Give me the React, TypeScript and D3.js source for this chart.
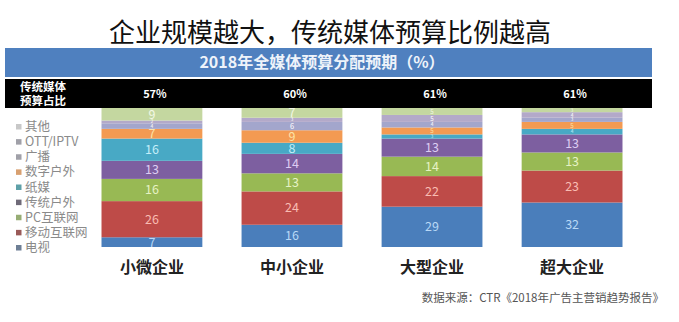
import React from "react";
import * as d3 from "d3";

const categories = ["小微企业", "中小企业", "大型企业", "超大企业"];
const traditionalShare = ["57%", "60%", "61%", "61%"];
const seriesNames = ["电视", "移动互联网", "PC互联网", "传统户外", "纸媒", "数字户外", "广播", "OTT/IPTV", "其他"];
const tv = [7, 16, 29, 32];
const mobile = [26, 24, 22, 23];
const pc = [16, 13, 14, 13];
const outdoor = [13, 14, 13, 13];
const print = [16, 8, 3, 4];
const digitalOutdoor = [7, 9, 5, 5];
const radio = [4, 6, 4, 3];
const ott = [2, 3, 5, 4];
const other = [9, 7, 5, 3];
const seriesValues = [tv, mobile, pc, outdoor, print, digitalOutdoor, radio, ott, other];

const fills = ["#4a7ebb", "#be4b48", "#98b954", "#7d5fa0", "#48a9c5", "#f39a52", "#a3a6cc", "#b3a9c9", "#c4d7a0"];
const labelFills = ["#b8d8f6", "#f9bcb2", "#e6f2c4", "#ddcdf2", "#c4eef9", "#fde3a6", "#ffffff", "#ffffff", "#f2f8e4"];
const legendFills = ["#6e7f95", "#9a5a58", "#97ad74", "#6f6a78", "#5ea0a8", "#d8a070", "#a0a0a8", "#a0a0a8", "#c8c8c8"];

const W = 679;
const H = 322;

export default function App() {
  const x = d3.scaleBand<string>().domain(categories).range([73.5, 650.5]).paddingInner(0.28).paddingOuter(0.2);
  const y = d3.scaleLinear().domain([0, 100]).range([247, 108]);
  const rows = categories.map((c, i) => {
    const r: Record<string, any> = { cat: c };
    seriesNames.forEach((s, j) => (r[s] = seriesValues[j][i]));
    return r;
  });
  const stacked = d3.stack<any>().keys(seriesNames)(rows);
  const legendY = d3.scalePoint<string>().domain([...seriesNames].reverse()).range([127, 248]);
  const font = "'Noto Sans CJK SC', 'Noto Sans', sans-serif";

  return (
    <svg width={W} height={H} style={{ position: "absolute", left: 0, top: 0, background: "#fff" }}>
      <text x={330} y={42} textAnchor="middle" fontFamily={font} fontSize={26} fill="#111">
        企业规模越大，传统媒体预算比例越高
      </text>
      <rect x={5} y={48} width={647} height={29} fill="#4f80bf" />
      <text x={322} y={68} textAnchor="middle" fontFamily={font} fontSize={16} fontWeight="bold" fill="#eef3fa">
        2018年全媒体预算分配预期（%）
      </text>
      <rect x={5} y={79} width={647} height={29} fill="#000" />
      <text x={20} y={91} fontFamily={font} fontSize={11.5} fontWeight="bold" fill="#fff">传统媒体</text>
      <text x={20} y={105} fontFamily={font} fontSize={11.5} fontWeight="bold" fill="#fff">预算占比</text>
      {categories.map((c, i) => (
        <text key={c} x={(x(c) as number) + x.bandwidth() / 2 + 3} y={98} textAnchor="middle" fontFamily={font} fontSize={11} fontWeight="bold" fill="#fff">
          {traditionalShare[i]}
        </text>
      ))}
      {stacked.map((layer, j) => (
        <g key={layer.key}>
          {layer.map((d, i) => (
            <rect key={i} x={x(categories[i])} y={y(d[1])} width={x.bandwidth()} height={y(d[0]) - y(d[1])} fill={fills[j]} />
          ))}
        </g>
      ))}
      {stacked.map((layer, j) => (
        <g key={layer.key + "l"}>
          {layer.map((d, i) => {
            const v = d[1] - d[0];
            const h = y(d[0]) - y(d[1]);
            const fs = v >= 7 ? 12.5 : Math.max(4.5, h * 0.9);
            return (
              <text key={i} x={(x(categories[i]) as number) + x.bandwidth() / 2} y={(y(d[0]) + y(d[1])) / 2}
                dy="0.35em" textAnchor="middle" fontFamily={font} fontSize={fs} fill={labelFills[j]}>
                {v}
              </text>
            );
          })}
        </g>
      ))}
      {seriesNames.map((s, j) => (
        <g key={s} transform={`translate(16,${legendY(s)})`}>
          <rect x={0} y={-3} width={5.5} height={5.5} fill={legendFills[j]} />
          <text x={9} y={4} fontFamily={font} fontSize={12.5} fill="#8a8a8a">{s}</text>
        </g>
      ))}
      {categories.map((c) => (
        <text key={c + "c"} x={(x(c) as number) + x.bandwidth() / 2} y={273} textAnchor="middle" fontFamily={font} fontSize={16} fontWeight="bold" fill="#222">
          {c}
        </text>
      ))}
      <text x={664} y={302} textAnchor="end" fontFamily={font} fontSize={11.5} fill="#555">
        数据来源：CTR《2018年广告主营销趋势报告》
      </text>
    </svg>
  );
}
